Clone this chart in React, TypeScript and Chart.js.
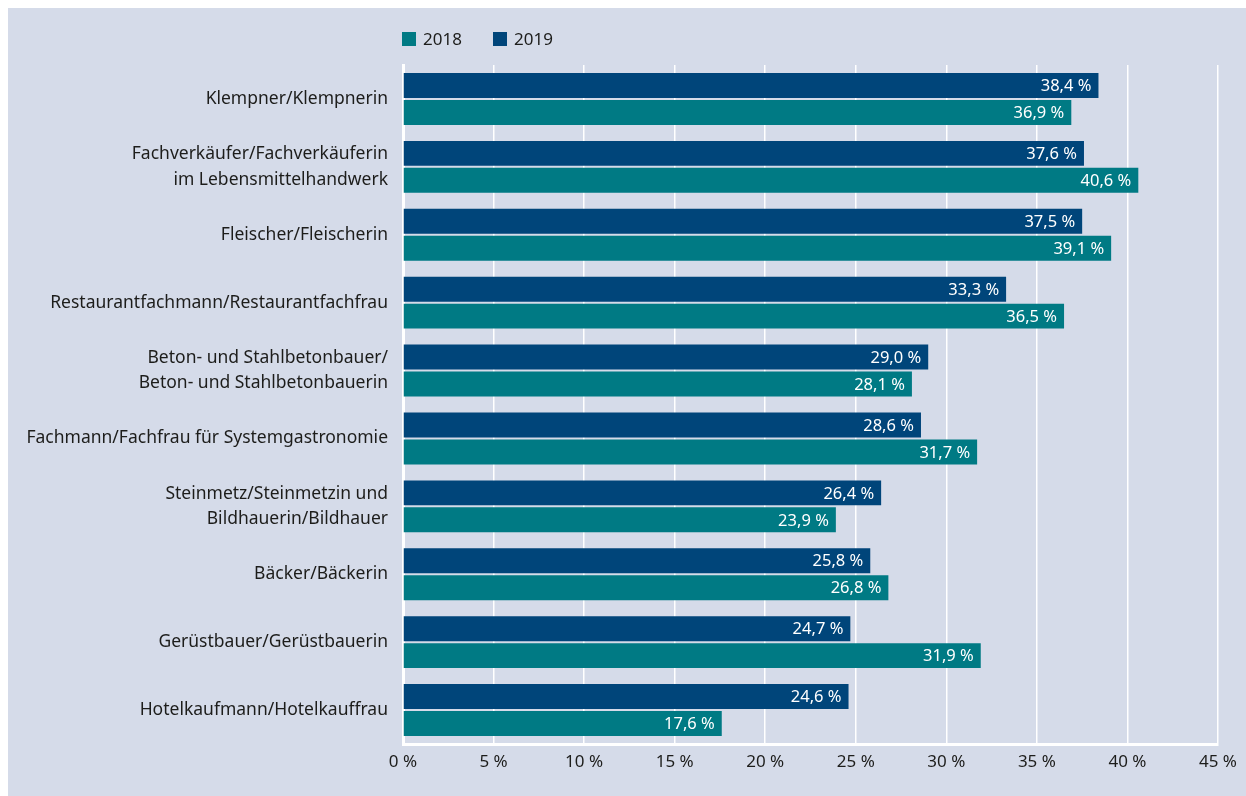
import React, { useEffect, useRef } from "react";
import { Chart, registerables } from "chart.js";

Chart.register(...registerables);

const categories: string[][] = [
  ["Klempner/Klempnerin"],
  ["Fachverkäufer/Fachverkäuferin", "im Lebensmittelhandwerk"],
  ["Fleischer/Fleischerin"],
  ["Restaurantfachmann/Restaurantfachfrau"],
  ["Beton- und Stahlbetonbauer/", "Beton- und Stahlbetonbauerin"],
  ["Fachmann/Fachfrau für Systemgastronomie"],
  ["Steinmetz/Steinmetzin und", "Bildhauerin/Bildhauer"],
  ["Bäcker/Bäckerin"],
  ["Gerüstbauer/Gerüstbauerin"],
  ["Hotelkaufmann/Hotelkauffrau"],
];

const values2019: number[] = [38.4, 37.6, 37.5, 33.3, 29.0, 28.6, 26.4, 25.8, 24.7, 24.6];
const values2018: number[] = [36.9, 40.6, 39.1, 36.5, 28.1, 31.7, 23.9, 26.8, 31.9, 17.6];

const seriesLabels = ["2018", "2019"];
const xMin = 0;
const xMax = 45;
const xStep = 5;

const COLOR_2018 = "#007a84";
const COLOR_2019 = "#00457a";
const BG = "#d5dbe9";
const TEXT = "#1d1d1b";
const FONT = "'Noto Sans', 'Open Sans', sans-serif";

const fmt = (v: number) => v.toFixed(1).replace(".", ",") + " %";

const valueLabels = {
  id: "valueLabels",
  afterDatasetsDraw(chart: any) {
    const ctx = chart.ctx;
    ctx.save();
    ctx.font = `16.5px ${FONT}`;
    ctx.fillStyle = "#ffffff";
    ctx.textAlign = "right";
    ctx.textBaseline = "middle";
    chart.data.datasets.forEach((ds: any, i: number) => {
      const meta = chart.getDatasetMeta(i);
      meta.data.forEach((el: any, j: number) => {
        ctx.fillText(fmt(ds.data[j]), el.x - 7, el.y + 1);
      });
    });
    ctx.restore();
  },
};

export default function App() {
  const ref = useRef<HTMLCanvasElement | null>(null);

  useEffect(() => {
    document.documentElement.style.overflow = "hidden";
    if (!ref.current) return;
    const chart = new Chart(ref.current, {
      type: "bar",
      data: {
        labels: categories,
        datasets: [
          {
            label: seriesLabels[1],
            data: values2019,
            backgroundColor: COLOR_2019,
            barPercentage: 0.926,
            categoryPercentage: 0.794,
          },
          {
            label: seriesLabels[0],
            data: values2018,
            backgroundColor: COLOR_2018,
            barPercentage: 0.926,
            categoryPercentage: 0.794,
          },
        ],
      },
      options: {
        indexAxis: "y",
        responsive: false,
        animation: false,
        layout: { padding: { top: 57, right: 28, bottom: 0, left: 0 } },
        plugins: {
          legend: { display: false },
          tooltip: { enabled: false },
        },
        scales: {
          x: {
            min: xMin,
            max: xMax,
            afterFit: (s: any) => {
              s.height = 52;
            },
            ticks: {
              stepSize: xStep,
              callback: (v: any) => `${v} %`,
              font: { family: FONT, size: 17 },
              color: TEXT,
              padding: 8,
              maxRotation: 0,
            },
            grid: { color: "#ffffff", lineWidth: 1.5, drawTicks: false },
            border: { display: true, color: "#ffffff", width: 3 },
          },
          y: {
            afterFit: (s: any) => {
              s.width = 395;
            },
            ticks: {
              font: { family: FONT, size: 17.5, lineHeight: 1.45 },
              color: TEXT,
              padding: 15,
            },
            grid: { display: false, drawTicks: false },
            border: { display: true, color: "#ffffff", width: 3 },
          },
        },
      },
      plugins: [valueLabels],
    } as any);
    return () => chart.destroy();
  }, []);

  const legendItem = (label: string, color: string, left: number) => (
    <div
      key={label}
      style={{
        position: "absolute",
        left,
        top: 21,
        display: "flex",
        alignItems: "center",
        fontFamily: FONT,
        fontSize: 17,
        color: TEXT,
        lineHeight: "20px",
      }}
    >
      <span style={{ display: "inline-block", width: 14, height: 14, background: color, marginRight: 7 }} />
      <span>{label}</span>
    </div>
  );

  return (
    <div style={{ position: "fixed", left: 8, top: 8, width: 1238, height: 788, background: BG }}>
      <canvas ref={ref} width={1238} height={788} style={{ display: "block", width: 1238, height: 788 }} />
      {legendItem(seriesLabels[0], COLOR_2018, 394)}
      {legendItem(seriesLabels[1], COLOR_2019, 485)}
    </div>
  );
}
